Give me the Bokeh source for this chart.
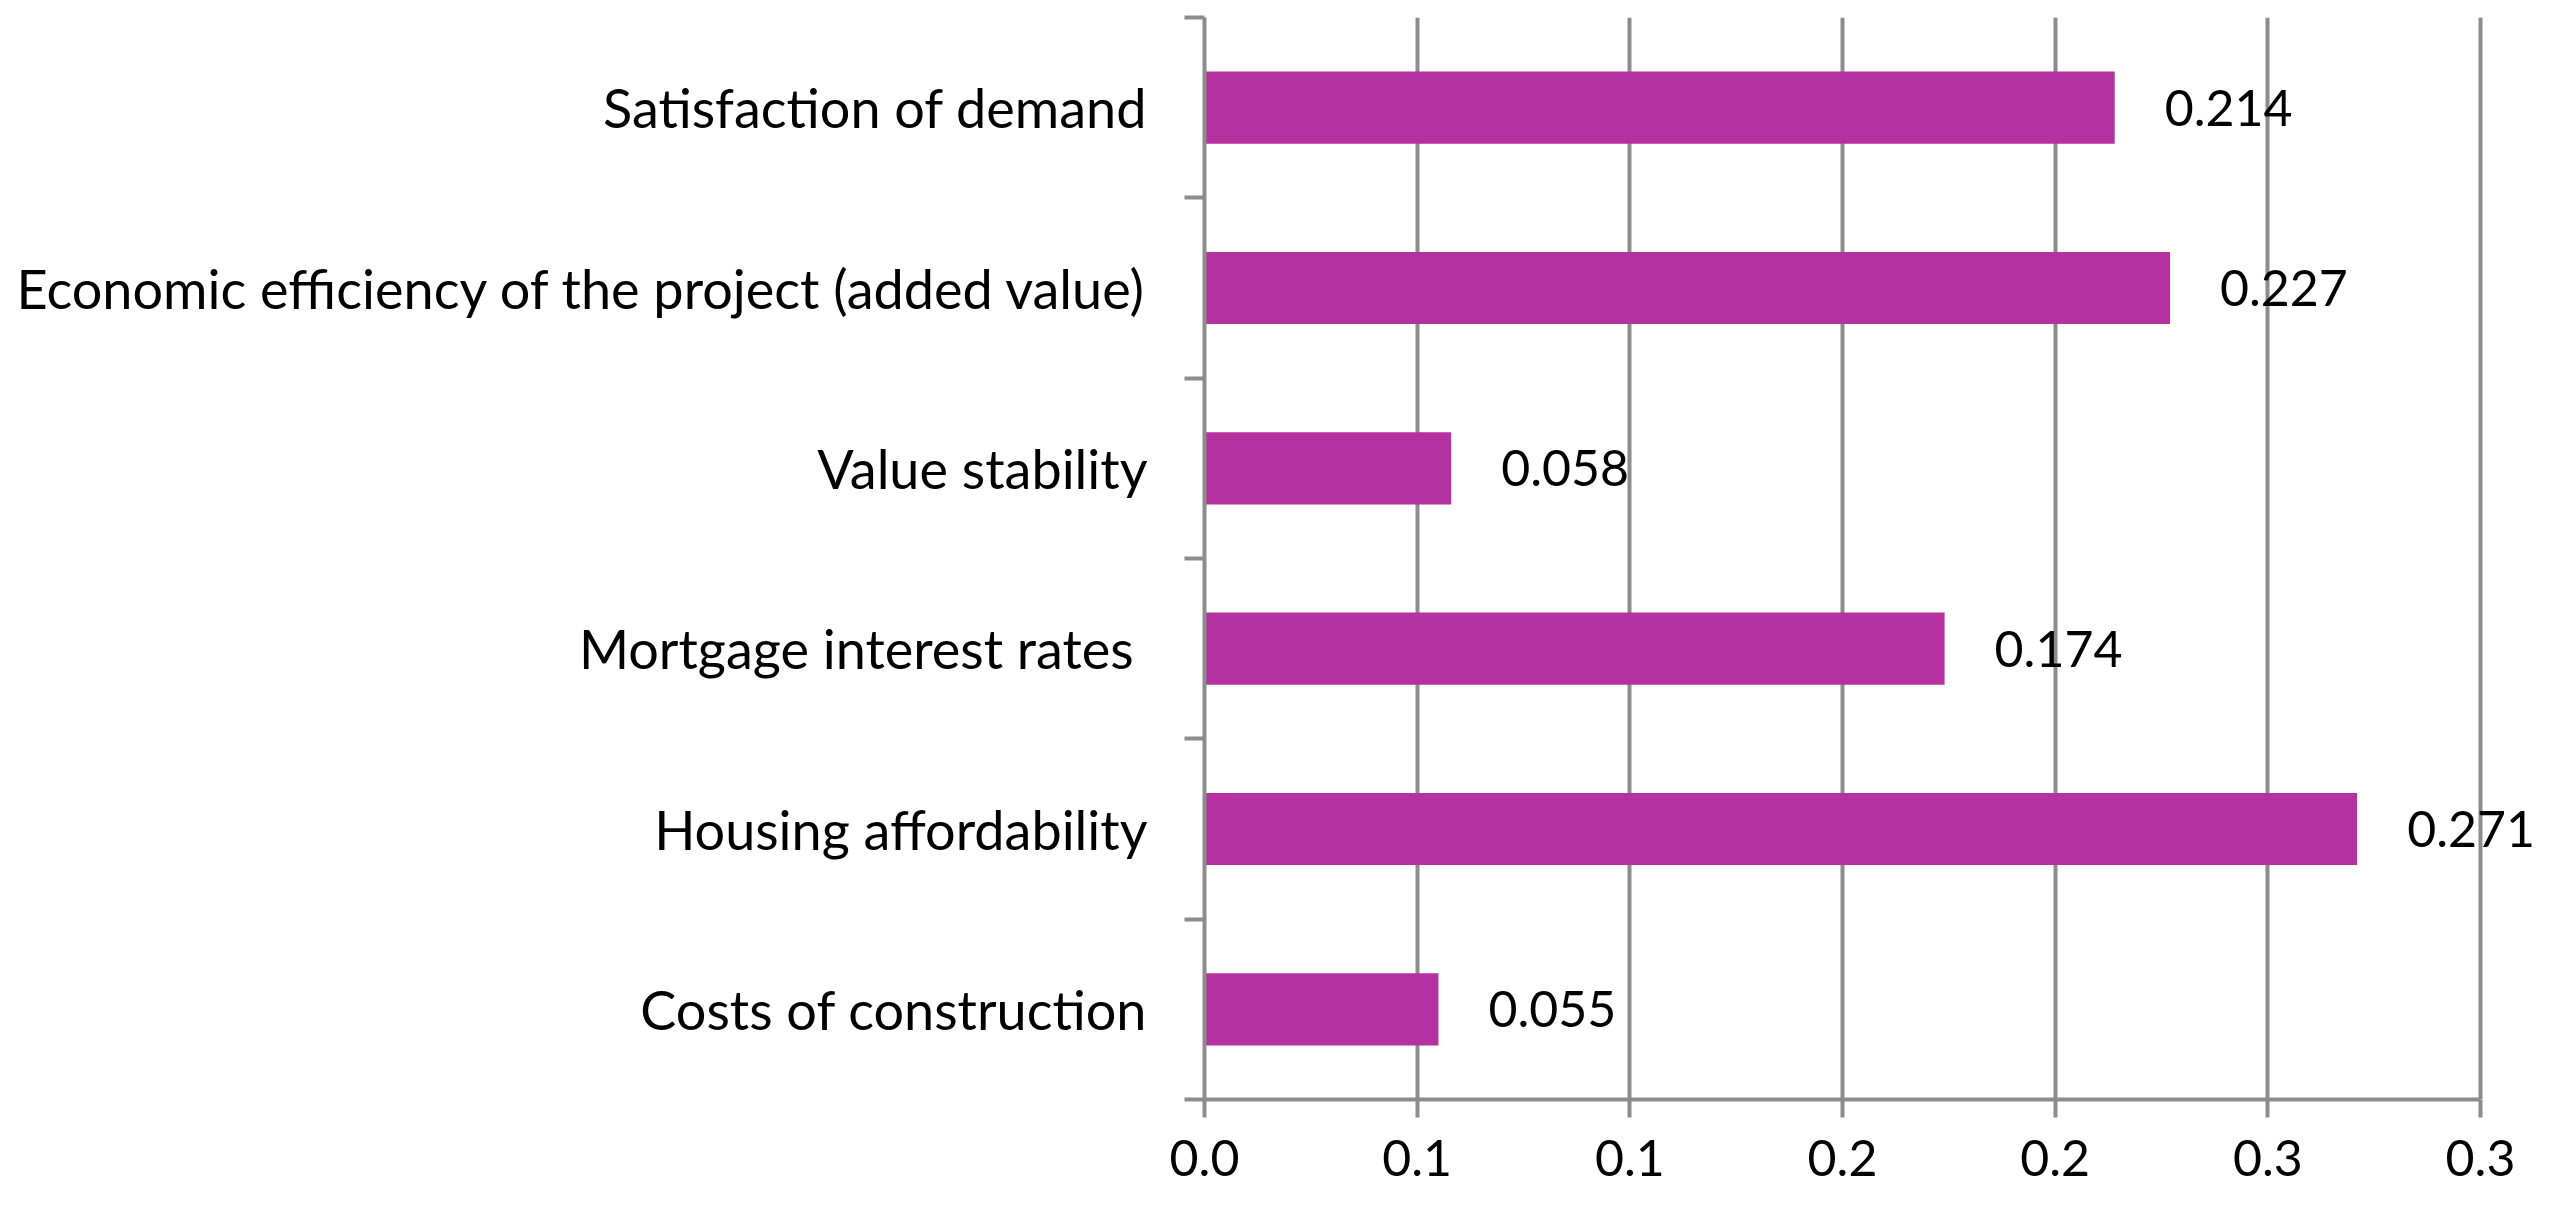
from bokeh.plotting import figure
from bokeh.models import Range1d, FixedTicker
from bokeh.embed import file_html
from bokeh.resources import INLINE
from bokeh.core.properties import value

# ---- data ----
categories = [
    "Satisfaction of demand",
    "Economic efficiency of the project (added value)",
    "Value stability",
    "Mortgage interest rates ",
    "Housing affordability",
    "Costs of construction",
]
weights = [0.214, 0.227, 0.058, 0.174, 0.271, 0.055]
label_texts = ["0.214", "0.227", "0.058", "0.174", "0.271", "0.055"]
x_ticks = [0.0, 0.05, 0.1, 0.15, 0.2, 0.25, 0.3]
x_tick_labels = ["0.0", "0.1", "0.1", "0.2", "0.2", "0.3", "0.3"]

# ---- styling ----
FONT = "Lato"
CAT_SIZE = "54px"
NUM_SIZE = "50px"
GRAY = "#8c8c8c"
BAR = "#b4319f"

n = len(categories)
y_pos = [n - i - 0.5 for i in range(n)]
boundaries = [float(b) for b in range(n + 1)]

W, H = 2542, 1202
LEFT, TOP, BOTTOM = 1204, 17, 103
frame_w = W - LEFT
px_per_unit = (2487.6 - 1211.6) / 0.3
x_end = frame_w / px_per_unit

p = figure(width=W, height=H, output_backend="svg", toolbar_location=None,
           x_range=Range1d(0, x_end), y_range=Range1d(0, n),
           min_border_left=LEFT, min_border_right=0,
           min_border_top=TOP, min_border_bottom=BOTTOM)
p.outline_line_color = None
p.background_fill_color = "white"
p.border_fill_color = "white"

p.hbar(y=y_pos, left=0, right=weights, height=0.4,
       fill_color=BAR, line_color=None)

p.text(x=weights, y=y_pos, text=label_texts, x_offset=50,
       text_align="left", text_baseline="middle",
       text_font=value(FONT), text_font_size=NUM_SIZE, text_color="black")

# grid
p.ygrid.visible = False
p.xgrid.ticker = FixedTicker(ticks=x_ticks)
p.xgrid.grid_line_color = GRAY
p.xgrid.grid_line_width = 4

# x axis
xa = p.xaxis[0]
xa.ticker = FixedTicker(ticks=x_ticks)
xa.major_label_overrides = {t: l for t, l in zip(x_ticks, x_tick_labels)}
xa.bounds = (0, 0.3)
xa.axis_line_color = GRAY
xa.axis_line_width = 4
xa.major_tick_line_color = GRAY
xa.major_tick_line_width = 4
xa.major_tick_out = 18
xa.major_tick_in = 0
xa.minor_tick_line_color = None
xa.major_label_text_font = FONT
xa.major_label_text_font_size = NUM_SIZE
xa.major_label_text_color = "black"
xa.major_label_standoff = 22

# y axis
ya = p.yaxis[0]
ya.ticker = FixedTicker(ticks=y_pos, minor_ticks=boundaries)
ya.major_label_overrides = {t: c for t, c in zip(y_pos, categories)}
ya.axis_line_color = GRAY
ya.axis_line_width = 4
ya.major_tick_line_color = None
ya.major_tick_out = 0
ya.major_tick_in = 0
ya.minor_tick_line_color = GRAY
ya.minor_tick_line_width = 4
ya.minor_tick_out = 20
ya.minor_tick_in = 0
ya.major_label_text_font = FONT
ya.major_label_text_font_size = CAT_SIZE
ya.major_label_text_color = "black"
ya.major_label_standoff = 37

open("out.html", "w").write(file_html(p, INLINE))
